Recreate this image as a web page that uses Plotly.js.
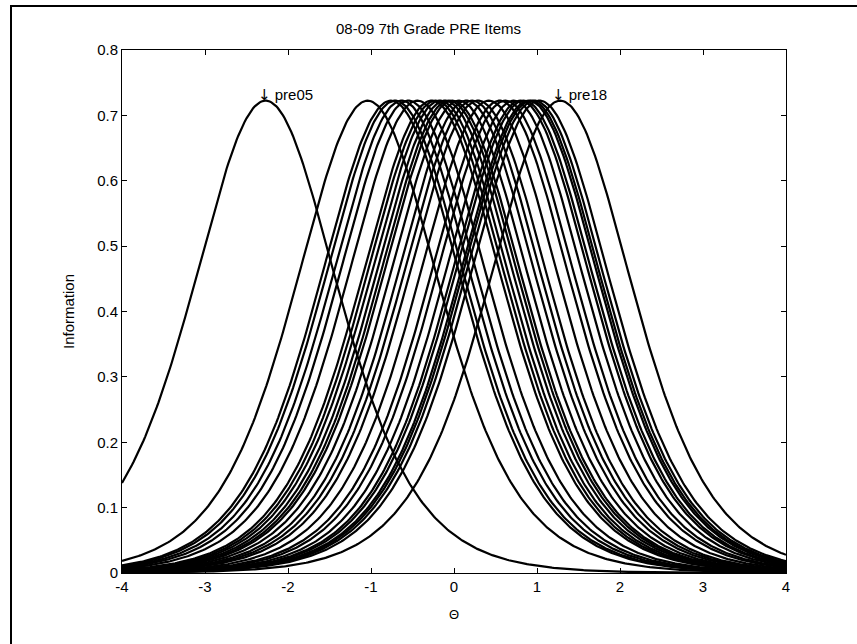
<!DOCTYPE html>
<html>
<head>
<meta charset="utf-8">
<script src="https://cdn.plot.ly/plotly-3.0.1.min.js"></script>
<style>
  html, body { margin: 0; padding: 0; background: #fff; }
  #wrap { position: relative; width: 857px; height: 644px; }
  #chart { width: 857px; height: 644px; }
  #frame { position: absolute; left: 10px; top: 5px; right: 0; bottom: 0;
           border-top: 2px solid #000; border-left: 2px solid #000; pointer-events: none; }
</style>
</head>
<body>
<div id="wrap">
  <div id="chart"></div>
  <div id="frame"></div>
</div>
<script>
// Item difficulties (b) read from the peak positions of each information curve
const itemNames = ["pre05","pre01","pre02","pre03","pre04","pre06","pre07","pre08","pre09","pre10",
                   "pre11","pre12","pre13","pre14","pre15","pre16","pre17","pre19","pre20","pre21",
                   "pre22","pre23","pre24","pre25","pre26","pre27","pre28","pre18"];
const difficulties = [-2.27,-1.04,-0.76,-0.71,-0.63,-0.55,-0.44,-0.27,-0.22,-0.17,
                      -0.11,-0.06,-0.02,0.06,0.15,0.22,0.29,0.42,0.55,0.62,
                      0.72,0.80,0.84,0.90,0.93,0.97,1.03,1.28];
const discrimination = 1.7;   // common slope: peak information = a^2/4 = 0.7225
const xTicks = [-4,-3,-2,-1,0,1,2,3,4];
const yTicks = [0,0.1,0.2,0.3,0.4,0.5,0.6,0.7,0.8];
const labelled = ["pre05","pre18"];

// theta grid for evaluating each item's information function
const theta = [];
for (let i = 0; i <= 400; i++) theta.push(-4 + i * 0.02);

function information(t, b, a) {
  const p = 1 / (1 + Math.exp(-a * (t - b)));
  return a * a * p * (1 - p);
}

const traces = difficulties.map((b, k) => ({
  type: "scatter",
  mode: "lines",
  name: itemNames[k],
  x: theta,
  y: theta.map(t => information(t, b, discrimination)),
  line: { color: "#000", width: 2.2 },
  hoverinfo: "skip",
  showlegend: false
}));

const fam = "Liberation Sans, Arial, Helvetica, sans-serif";
const annotations = labelled.map(name => {
  const b = difficulties[itemNames.indexOf(name)];
  return {
    x: b - 0.12, y: 0.731, xref: "x", yref: "y",
    text: "<span style='font-family:DejaVu Sans'>\u2193</span> " + name, showarrow: false,
    xanchor: "left", yanchor: "middle",
    font: { family: fam, size: 15, color: "#000" }
  };
});

const font = { family: fam, size: 15, color: "#000" };

const layout = {
  width: 857, height: 644,
  margin: { l: 122, r: 71, t: 50, b: 71 },
  paper_bgcolor: "#fff", plot_bgcolor: "#fff",
  font: font,
  title: { text: "08-09 7th Grade PRE Items", x: 0.5, xanchor: "center", y: 0.956, yanchor: "middle",
           font: { family: fam, size: 15, color: "#000" } },
  xaxis: {
    range: [-4, 4], tickvals: xTicks, ticktext: xTicks.map(String),
    ticks: "inside", ticklen: 5, tickcolor: "#000", tickwidth: 1,
    showline: true, linecolor: "#000", linewidth: 1, mirror: "ticks",
    showgrid: false, zeroline: false, tickfont: font,
    title: { text: "\u0398", font: { family: fam, size: 13, color: "#000" }, standoff: 15 }
  },
  yaxis: {
    range: [0, 0.8], tickvals: yTicks, ticktext: yTicks.map(v => v === 0 ? "0" : v.toFixed(1)),
    ticks: "inside", ticklen: 5, tickcolor: "#000", tickwidth: 1,
    showline: true, linecolor: "#000", linewidth: 1, mirror: "ticks",
    showgrid: false, zeroline: false, tickfont: font,
    title: { text: "Information", font: { family: fam, size: 15, color: "#000" }, standoff: 18 }
  },
  annotations: annotations
};

Plotly.newPlot("chart", traces, layout, { staticPlot: true, displayModeBar: false });
</script>
</body>
</html>
